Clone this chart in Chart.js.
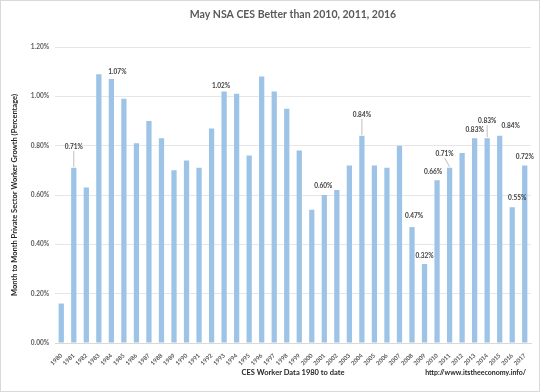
<!DOCTYPE html>
<html>
<head>
<meta charset="utf-8">
<script src="https://cdn.jsdelivr.net/npm/chart.js@4.4.0/dist/chart.umd.min.js"></script>
<style>
  html, body { margin: 0; padding: 0; background: #fff; }
  #wrap { width: 540px; height: 392px; position: relative; }
</style>
</head>
<body>
<div id="wrap"><canvas id="chart"></canvas></div>
<script>
// データ
const years = ['1980','1981','1982','1983','1984','1985','1986','1987','1988','1989',
  '1990','1991','1992','1993','1994','1995','1996','1997','1998','1999',
  '2000','2001','2002','2003','2004','2005','2006','2007','2008','2009',
  '2010','2011','2012','2013','2014','2015','2016','2017'];
const growth = [0.16, 0.71, 0.63, 1.09, 1.07, 0.99, 0.81, 0.90, 0.83, 0.70,
  0.74, 0.71, 0.87, 1.02, 1.01, 0.76, 1.08, 1.02, 0.95, 0.78,
  0.54, 0.60, 0.62, 0.72, 0.84, 0.72, 0.71, 0.80, 0.47, 0.32,
  0.66, 0.71, 0.77, 0.83, 0.83, 0.84, 0.55, 0.72];
const yTicks = [0, 0.2, 0.4, 0.6, 0.8, 1.0, 1.2];
const labelledYears = ['1981','1984','1993','2001','2004','2008','2009','2010','2011','2013','2014','2015','2016','2017'];

const titleText = 'May NSA CES Better than 2010, 2011, 2016';
const xTitle = 'CES Worker Data 1980 to date';
const yTitle = 'Month to Month Private Sector Worker Growth (Percentage)';
const sourceText = 'http://www.itstheeconomy.info/';

// ラベルの位置ずれ (px) : [dx, dy, leader]
const labelPos = {
  '1981': [0, -18, true], '1984': [6, -4], '1993': [-3, -2], '2001': [-1, -6],
  '2004': [0, -18, true], '2008': [2, -8], '2009': [0, -5], '2010': [-4, -5],
  '2011': [-5, -11, true], '2013': [0, -5], '2014': [0, -14, true], '2015': [11, -7],
  '2016': [5, -6], '2017': [0, -5]
};

const FONT = 'Lato, "Open Sans", sans-serif';
const TXT = '#595959';

const decor = {
  id: 'decor',
  beforeDraw(chart) {
    const c = chart.ctx;
    c.save();
    c.fillStyle = '#ffffff';
    c.fillRect(0, 0, chart.width, chart.height);
    c.strokeStyle = '#d9d9d9';
    c.lineWidth = 1;
    c.strokeRect(0.5, 0.5, chart.width - 1, chart.height - 1);
    c.restore();
  },
  afterDraw(chart) {
    const c = chart.ctx;
    const a = chart.chartArea;
    c.save();
    c.fillStyle = TXT;
    c.textAlign = 'center';
    c.textBaseline = 'middle';
    c.font = 'bold 10.5px ' + FONT;
    c.fillText(titleText, (a.left + a.right) / 2, 15);

    c.fillStyle = '#262626';
    c.font = 'bold 7.5px ' + FONT;
    c.fillText(xTitle, (a.left + a.right) / 2, 373);
    c.textAlign = 'right';
    c.font = 'bold 7px ' + FONT;
    c.fillText(sourceText, 526, 373);

    c.translate(15, (a.top + a.bottom) / 2);
    c.rotate(-Math.PI / 2);
    c.textAlign = 'center';
    c.font = 'bold 7.5px ' + FONT;
    c.fillText(yTitle, 0, 0);
    c.restore();

    // データラベル
    const meta = chart.getDatasetMeta(0);
    c.save();
    c.font = 'bold 6.5px ' + FONT;
    c.textAlign = 'center';
    c.textBaseline = 'bottom';
    labelledYears.forEach(y => {
      const i = years.indexOf(y);
      const bar = meta.data[i];
      const p = labelPos[y] || [0, -4];
      const lx = bar.x + p[0];
      const ly = bar.y + p[1];
      if (p[2]) {
        c.strokeStyle = '#bfbfbf';
        c.lineWidth = 1;
        c.beginPath();
        c.moveTo(lx, ly + 1);
        c.lineTo(bar.x, bar.y - 1);
        c.stroke();
      }
      c.fillStyle = '#404040';
      c.fillText(growth[i].toFixed(2) + '%', lx, ly);
    });
    c.restore();
  }
};

new Chart(document.getElementById('chart'), {
  type: 'bar',
  data: {
    labels: years,
    datasets: [{
      data: growth,
      backgroundColor: '#9dc3e6',
      borderWidth: 0,
      categoryPercentage: 1,
      barPercentage: 0.42
    }]
  },
  options: {
    responsive: true,
    maintainAspectRatio: false,
    animation: false,
    layout: { padding: { top: 47, right: 9, bottom: 0, left: 0 } },
    plugins: { legend: { display: false }, tooltip: { enabled: false }, title: { display: false } },
    scales: {
      x: {
        grid: { display: false },
        border: { color: '#d9d9d9' },
        ticks: {
          color: TXT, font: { family: FONT, size: 6, weight: 'bold' },
          maxRotation: 45, minRotation: 45, autoSkip: false, padding: 1
        },
        afterFit(s) { s.height = 49; }
      },
      y: {
        min: 0, max: 1.2,
        afterBuildTicks(s) { s.ticks = yTicks.map(v => ({ value: v })); },
        grid: { color: '#e6e6e6', drawTicks: false },
        border: { display: false },
        ticks: {
          color: TXT, font: { family: FONT, size: 6.5, weight: 'bold' }, padding: 6,
          callback: v => v.toFixed(2) + '%'
        },
        afterFit(s) { s.width = 55; }
      }
    }
  },
  plugins: [decor]
});
</script>
</body>
</html>
